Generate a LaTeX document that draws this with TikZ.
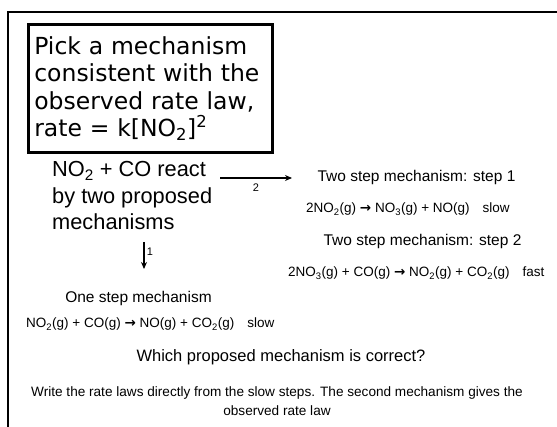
\documentclass[tikz,border=0pt]{standalone}
\usepackage{fontspec}
\setmainfont{Liberation Sans}
\newfontfamily\handfont{DejaVu Sans}
\usetikzlibrary{positioning,arrows.meta}
\newcommand{\yields}{{\handfont\bfseries\fontsize{13.5}{13.5}\selectfont →}}

\begin{document}
\begin{tikzpicture}[
  x=1pt,y=-1pt,
  question/.style={draw,line width=2.6pt,anchor=north west,align=left,text width=232pt,
             minimum width=244pt,minimum height=128pt,inner xsep=6pt,
             font=\handfont\fontsize{23.5}{27.5}\selectfont},
  intro/.style={anchor=base west,align=left,inner sep=0pt,
             font=\fontsize{21.8}{26.5}\selectfont},
  head/.style={anchor=base,inner sep=0pt,font=\fontsize{15.5}{18}\selectfont},
  eqn/.style={anchor=base west,inner sep=0pt,font=\fontsize{13.5}{15}\selectfont},
  ask/.style={anchor=base,inner sep=0pt,font=\fontsize{16.5}{19}\selectfont},
  note/.style={anchor=base,inner sep=0pt,align=center,font=\fontsize{13.6}{19}\selectfont},
  lbl/.style={inner sep=2pt,font=\fontsize{11}{13}\selectfont},
  arr/.style={line width=1.8pt,-{Stealth[length=7pt,width=6pt]}}
]
\def\gap{\hspace{13pt}}
\useasboundingbox (0,0) rectangle (557,427);
\fill[white] (0,0) rectangle (557,427);
% outer frame
\draw[line width=2.4pt] (8,427) -- (8,12) -- (557,12);

% question box
\node[question] (pick) at (27,23)
  {Pick a mechanism\\consistent with the\\observed rate law,\\rate = k[NO\textsubscript{2}]\textsuperscript{2}};

% reaction and the two branches (base = last line)
\node[intro] (react) at (52,230)
  {NO\textsubscript{2} + CO react\\by two proposed\\mechanisms};
\coordinate (a2s) at (220,178);
\coordinate (a2e) at (292,178);
\draw[arr] (a2s) -- node[below=3pt,lbl] {2} (a2e);
\coordinate (a1s) at (144,242);
\coordinate (a1e) at (144,269);
\draw[arr] (a1s) -- node[right,lbl,pos=0.35] {1} (a1e);

% two step mechanism
\node[head] (twoa) at (416.5,182) {Two step mechanism: step 1};
\node[eqn] (stepa) at (306,213)
  {2NO\textsubscript{2}(g) \yields{} NO\textsubscript{3}(g) + NO(g)\gap slow};
\node[head] (twob) at (422.5,246) {Two step mechanism: step 2};
\node[eqn] (stepb) at (288,277)
  {2NO\textsubscript{3}(g) + CO(g) \yields{} NO\textsubscript{2}(g) + CO\textsubscript{2}(g)\gap fast};

% one step mechanism
\node[head] (onea) at (138.5,303) {One step mechanism};
\node[eqn] (stepc) at (26,328)
  {NO\textsubscript{2}(g) + CO(g) \yields{} NO(g) + CO\textsubscript{2}(g)\gap slow};

% conclusion
\node[ask] (which) at (281,362) {Which proposed mechanism is correct?};
\node[note] (answer) at (277,416)
  {Write the rate laws directly from the slow steps. The second mechanism gives the\\observed rate law};
\end{tikzpicture}
\end{document}
